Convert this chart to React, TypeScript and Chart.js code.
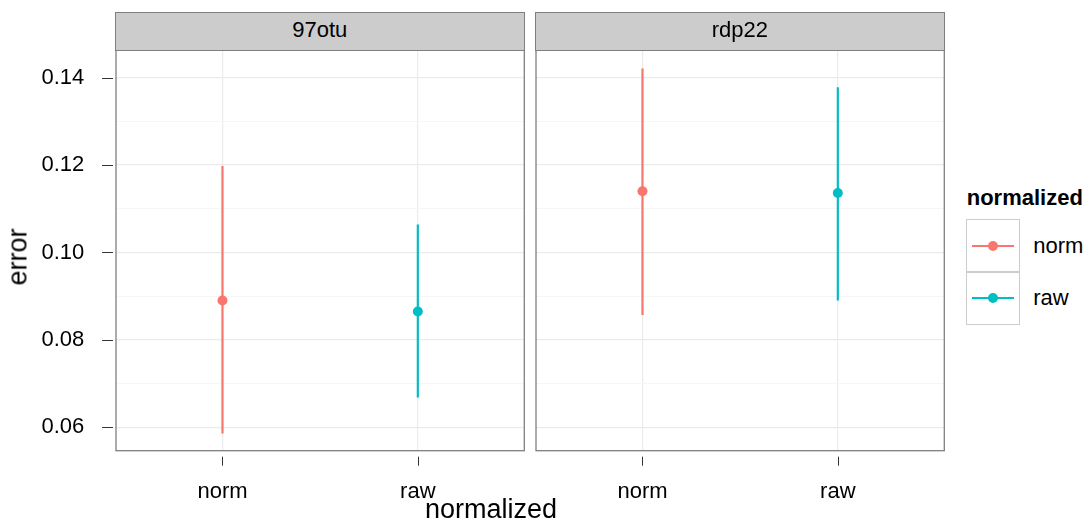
import React, { useEffect, useRef } from 'react';
import { Chart, registerables } from 'chart.js';

Chart.register(...registerables);

const facets = ['97otu', 'rdp22'];
const categories = ['norm', 'raw'];
const seriesColors = ['#F8766D', '#00BFC4'];
// values per facet, in category order [norm, raw]
const meanValues = [
  [0.089, 0.0865],
  [0.114, 0.1136],
];
const lowValues = [
  [0.0586, 0.0668],
  [0.0857, 0.089],
];
const highValues = [
  [0.1198, 0.1064],
  [0.1421, 0.1378],
];
const yMajorTicks = [0.06, 0.08, 0.1, 0.12, 0.14];
const yMinorTicks = [0.07, 0.09, 0.11, 0.13];
const yMin = 0.05465;
const yMax = 0.14632;
const xMin = 0.455;
const xMax = 2.545;

const FONT = '"Liberation Sans", Arial, Helvetica, sans-serif';

const isMajor = (v: number) => yMajorTicks.some((m) => Math.abs(m - v) < 1e-9);

function makeDecoPlugin(showY: boolean) {
  return {
    id: 'panelDeco',
    afterDraw(chart: any) {
      const { ctx, chartArea: a, scales } = chart;
      ctx.save();
      ctx.strokeStyle = '#333333';
      ctx.lineWidth = 1;
      scales.x.ticks.forEach((t: any) => {
        const px = Math.round(scales.x.getPixelForValue(t.value)) + 0.5;
        ctx.beginPath();
        ctx.moveTo(px, a.bottom + 6);
        ctx.lineTo(px, a.bottom + 15);
        ctx.stroke();
      });
      if (showY) {
        yMajorTicks.forEach((v) => {
          const py = Math.round(scales.y.getPixelForValue(v)) + 0.5;
          ctx.beginPath();
          ctx.moveTo(a.left - 14, py);
          ctx.lineTo(a.left - 3, py);
          ctx.stroke();
        });
      }
      ctx.strokeStyle = '#7F7F7F';
      ctx.lineWidth = 1.3;
      ctx.strokeRect(a.left, a.top, a.right - a.left, a.bottom - a.top);
      ctx.restore();
    },
  };
}

function Panel({ facetIndex, showY, left, width }: { facetIndex: number; showY: boolean; left: number; width: number }) {
  const ref = useRef<HTMLCanvasElement>(null);
  useEffect(() => {
    const canvas = ref.current;
    if (!canvas) return;
    const datasets: any[] = [];
    categories.forEach((c, i) => {
      datasets.push({
        label: c + ' range',
        data: [
          { x: i + 1, y: lowValues[facetIndex][i] },
          { x: i + 1, y: highValues[facetIndex][i] },
        ],
        showLine: true,
        borderColor: seriesColors[i],
        borderWidth: 2.2,
        pointRadius: 0,
        borderCapStyle: 'butt',
      });
    });
    datasets.push({
      label: 'mean',
      data: categories.map((c, i) => ({ x: i + 1, y: meanValues[facetIndex][i] })),
      showLine: false,
      pointRadius: 5,
      pointBorderWidth: 0,
      pointBackgroundColor: seriesColors,
      pointBorderColor: seriesColors,
    });
    const chart = new Chart(canvas, {
      type: 'scatter',
      data: { datasets },
      options: {
        animation: false,
        responsive: false,
        events: [],
        layout: { padding: { top: 50, right: 5.7, left: 0, bottom: 0 } },
        plugins: { legend: { display: false }, tooltip: { enabled: false } },
        scales: {
          x: {
            type: 'linear',
            min: xMin,
            max: xMax,
            afterBuildTicks: (scale: any) => {
              scale.ticks = categories.map((c, i) => ({ value: i + 1 }));
            },
            afterFit: (scale: any) => {
              scale.height = 74.3;
            },
            border: { display: false },
            grid: { color: '#EBEBEB', lineWidth: 1.2, drawTicks: false },
            ticks: {
              padding: 28,
              maxRotation: 0,
              autoSkip: false,
              color: '#000000',
              font: { family: FONT, size: 22 },
              callback: (v: any) => categories[Math.round(Number(v)) - 1] ?? '',
            },
          },
          y: {
            type: 'linear',
            min: yMin,
            max: yMax,
            afterBuildTicks: (scale: any) => {
              scale.ticks = [...yMajorTicks, ...yMinorTicks].sort((a, b) => a - b).map((v) => ({ value: v }));
            },
            afterFit: (scale: any) => {
              scale.width = showY ? 116 : 6;
            },
            border: { display: false },
            grid: {
              drawTicks: false,
              color: (ctx: any) => (ctx.tick && isMajor(ctx.tick.value) ? '#EBEBEB' : '#F6F6F6'),
              lineWidth: (ctx: any) => (ctx.tick && isMajor(ctx.tick.value) ? 1.2 : 1),
            },
            ticks: {
              display: showY,
              padding: 31.7,
              autoSkip: false,
              color: '#000000',
              font: { family: FONT, size: 22 },
              callback: (v: any) => (isMajor(Number(v)) ? Number(v).toFixed(2) : ''),
            },
          },
        },
      },
      plugins: [makeDecoPlugin(showY)],
    } as any);
    return () => chart.destroy();
  }, [facetIndex, showY]);
  return (
    <canvas
      ref={ref}
      width={width}
      height={525}
      style={{ position: 'absolute', left, top: 0, width, height: 525 }}
    />
  );
}

function Text({ text, left, baseline, size, bold, anchor }: { text: string; left: number; baseline: number; size: number; bold?: boolean; anchor?: 'start' | 'middle' }) {
  const top = baseline - 0.8465 * size;
  return (
    <div
      style={{
        position: 'absolute',
        left,
        top,
        fontSize: size,
        lineHeight: `${size}px`,
        fontWeight: bold ? 'bold' : 'normal',
        whiteSpace: 'nowrap',
        transform: anchor === 'middle' ? 'translateX(-50%)' : undefined,
        color: '#000',
      }}
    >
      {text}
    </div>
  );
}

export default function App() {
  const panelLefts = [116, 536];
  const panelWidth = 408.3;
  return (
    <div
      style={{
        position: 'absolute',
        left: 0,
        top: 0,
        width: 1090,
        height: 525,
        background: '#FFFFFF',
        fontFamily: FONT,
        overflow: 'hidden',
      }}
    >
      <Panel facetIndex={0} showY={true} left={0} width={530} />
      <Panel facetIndex={1} showY={false} left={530} width={420} />
      {facets.map((f, i) => (
        <div
          key={f}
          style={{
            position: 'absolute',
            left: panelLefts[i] - 0.6,
            top: 12.4,
            width: panelWidth + 1.2,
            height: 38.3,
            boxSizing: 'border-box',
            background: '#CCCCCC',
            border: '1.3px solid #7F7F7F',
          }}
        >
          <Text text={f} left={(panelWidth + 1.2) / 2 - 1.3} baseline={38.3 - 12.4 - 1.3} size={22} anchor="middle" />
        </div>
      ))}
      {/* y axis title */}
      <div
        style={{
          position: 'absolute',
          left: 17.6,
          top: 256.5,
          fontSize: 27,
          lineHeight: '27px',
          whiteSpace: 'nowrap',
          transform: 'translate(-50%, -50%) rotate(-90deg)',
          color: '#000',
        }}
      >
        error
      </div>
      {/* x axis title */}
      <Text text="normalized" left={491} baseline={519} size={27} anchor="middle" />
      {/* legend */}
      <Text text="normalized" left={966.7} baseline={206} size={22} bold />
      {categories.map((c, i) => {
        const top = 219 + i * 52.5;
        return (
          <React.Fragment key={c}>
            <div
              style={{
                position: 'absolute',
                left: 966,
                top,
                width: 54,
                height: 53,
                boxSizing: 'border-box',
                border: '1.5px solid #CCCCCC',
                background: '#FFFFFF',
              }}
            />
            <div
              style={{
                position: 'absolute',
                left: 971.7,
                top: top + 25.7,
                width: 42.3,
                height: 2.2,
                background: seriesColors[i],
              }}
            />
            <div
              style={{
                position: 'absolute',
                left: 992.8 - 5,
                top: top + 26.8 - 5,
                width: 10,
                height: 10,
                borderRadius: '50%',
                background: seriesColors[i],
              }}
            />
            <Text text={c} left={1033.3} baseline={top + 34.5} size={22} />
          </React.Fragment>
        );
      })}
    </div>
  );
}
